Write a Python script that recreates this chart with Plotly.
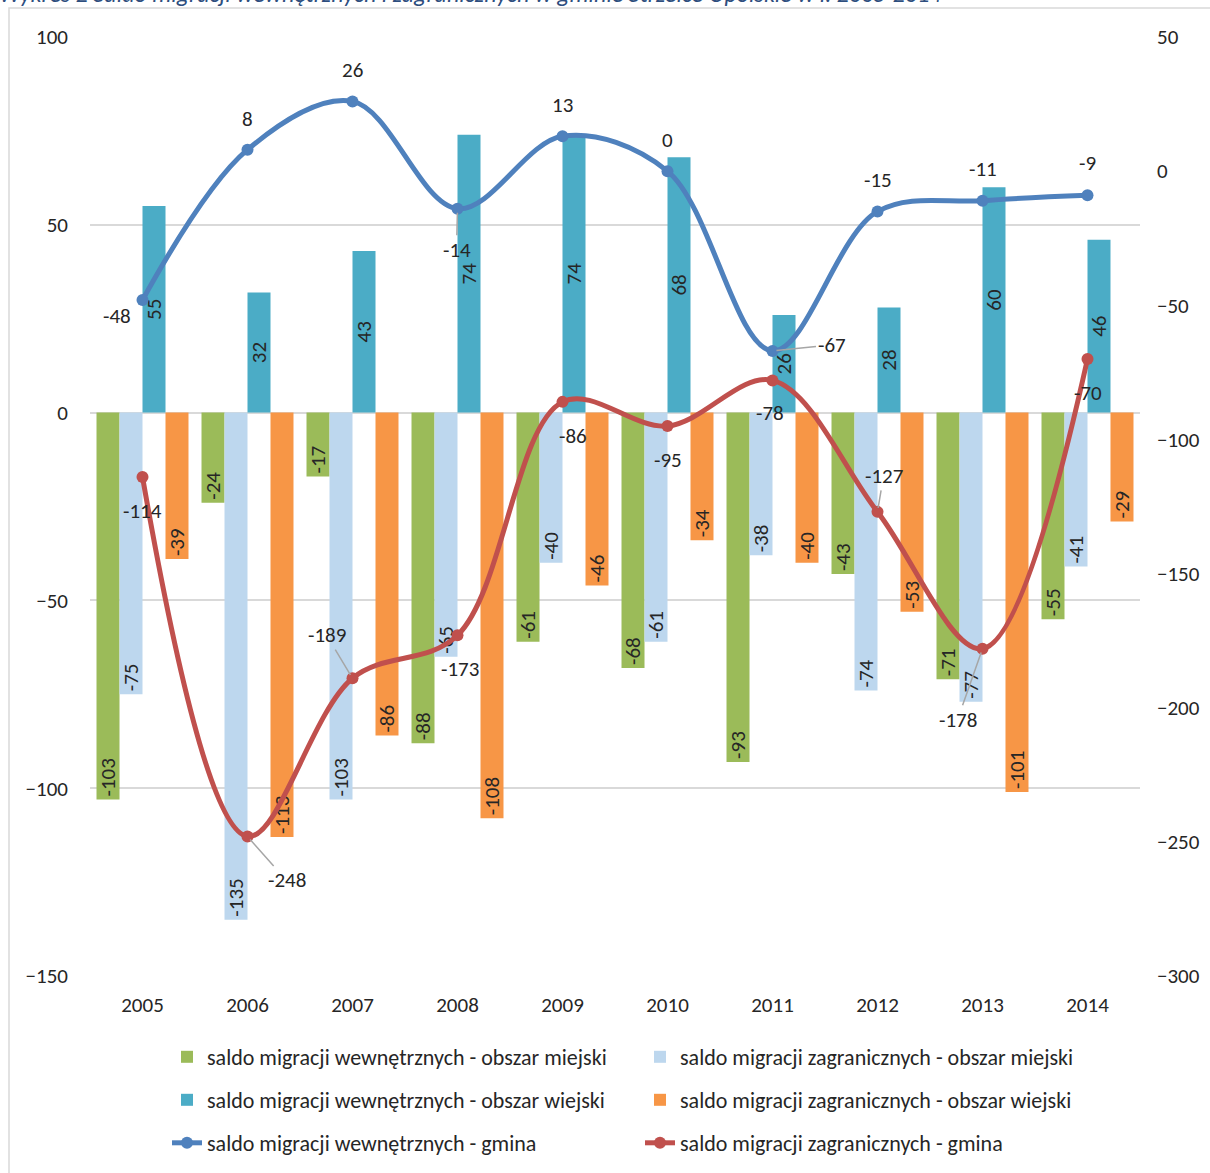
import plotly.graph_objects as go

years = ["2005", "2006", "2007", "2008", "2009", "2010", "2011", "2012", "2013", "2014"]
wewn_miejski = [-103, -24, -17, -88, -61, -68, -93, -43, -71, -55]
zagr_miejski = [-75, -135, -103, -65, -40, -61, -38, -74, -77, -41]
wewn_wiejski = [55, 32, 43, 74, 74, 68, 26, 28, 60, 46]
zagr_wiejski = [-39, -113, -86, -108, -46, -34, -40, -53, -101, -29]
wewn_gmina = [-48, 8, 26, -14, 13, 0, -67, -15, -11, -9]
zagr_gmina = [-114, -248, -189, -173, -86, -95, -78, -127, -178, -70]

names = [
    "saldo migracji wewnętrznych - obszar miejski",
    "saldo migracji zagranicznych - obszar miejski",
    "saldo migracji wewnętrznych - obszar wiejski",
    "saldo migracji zagranicznych - obszar wiejski",
    "saldo migracji wewnętrznych - gmina",
    "saldo migracji zagranicznych - gmina",
]
title_text = "Wykres 2 Saldo migracji wewnętrznych i zagranicznych w gminie Strzelce Opolskie w l. 2005-2014"

FONT = "Carlito, Lato, sans-serif"
TXT = "#262626"
FS = 21
W, H = 1210, 1173
ML, MR, MT, MB = 90, 70, 37, 197
PW, PH = W - ML - MR, H - MT - MB

fig = go.Figure()

bar_specs = [
    (wewn_miejski, "#9BBB59", "end", "legend"),
    (zagr_miejski, "#BDD7EE", "end", "legend"),
    (wewn_wiejski, "#4BACC6", "middle", "legend2"),
    (zagr_wiejski, "#F79646", "end", "legend2"),
]
for i, (vals, col, anchor, lg) in enumerate(bar_specs):
    fig.add_trace(go.Bar(
        x=years, y=vals, name=names[i], marker=dict(color=col, line=dict(width=0)),
        text=[str(v) for v in vals], textposition="inside", insidetextanchor=anchor,
        textangle=-90, constraintext="none", cliponaxis=False,
        textfont=dict(family=FONT, size=FS, color=TXT),
        legend=lg, hoverinfo="skip",
    ))

fig.add_trace(go.Scatter(
    x=years, y=wewn_gmina, name=names[4], yaxis="y2", mode="lines+markers",
    line=dict(color="#4F81BD", width=5, shape="spline", smoothing=1),
    marker=dict(size=12, color="#4F81BD"), legend="legend3", hoverinfo="skip",
))
fig.add_trace(go.Scatter(
    x=years, y=zagr_gmina, name=names[5], yaxis="y2", mode="lines+markers",
    line=dict(color="#C0504D", width=5, shape="spline", smoothing=1),
    marker=dict(size=12, color="#C0504D"), legend="legend3", hoverinfo="skip",
))

# label offsets (pixels): (dx, dy) of label centre from the point, leader flag
blue_off = [(-26, 16, False), (0, -31, False), (0, -31, False), (-1, 41, True), (0, -31, False),
            (0, -31, False), (59, -6, True), (0, -31, False), (0, -32, False), (0, -32, False)]
red_off = [(0, 34, False), (39, 44, True), (-26, -43, True), (2, 34, False), (10, 34, False),
           (0, 34, False), (-3, 33, False), (6, -36, True), (-25, 71, True), (0, 34, False)]

annotations = []
for vals, offs in ((wewn_gmina, blue_off), (zagr_gmina, red_off)):
    for idx, (v, (dx, dy, lead)) in enumerate(zip(vals, offs)):
        common = dict(x=idx, y=v, xref="x", yref="y2", text=str(v),
                      font=dict(family=FONT, size=FS, color=TXT))
        if lead:
            annotations.append(dict(**common, showarrow=True, ax=dx, ay=dy, axref="pixel",
                                    ayref="pixel", arrowhead=0, arrowwidth=1.5,
                                    arrowcolor="#A6A6A6", standoff=4))
        else:
            annotations.append(dict(**common, showarrow=False, xshift=dx, yshift=-dy))

annotations.append(dict(
    text=title_text, xref="paper", yref="paper", x=(-3 - ML) / PW, y=1 + (MT - 10) / PH,
    xanchor="left", yanchor="bottom", showarrow=False,
    font=dict(family=FONT, size=24, color="#2E4E7E", style="italic"),
))

shapes = [dict(type="rect", xref="paper", yref="paper",
               x0=(9 - ML) / PW, x1=(1215 - ML) / PW,
               y0=-(H + 20 - MT - PH) / PH, y1=1 + (MT - 8) / PH,
               line=dict(color="#D9D9D9", width=1.5), fillcolor="rgba(0,0,0,0)", layer="below")]

leg_common = dict(orientation="h", font=dict(family=FONT, size=22, color=TXT),
                  x=(167 - ML) / PW, xanchor="left", yanchor="middle", yref="container",
                  entrywidth=428, bgcolor="rgba(0,0,0,0)", itemclick=False)

fig.update_layout(
    width=W, height=H, margin=dict(l=ML, r=MR, t=MT, b=MB, autoexpand=False),
    paper_bgcolor="white", plot_bgcolor="white",
    barmode="group", bargap=0.124, bargroupgap=0,
    font=dict(family=FONT, size=FS, color=TXT),
    xaxis=dict(type="category", range=[-0.5, 9.5], showgrid=False, showline=False, ticks="",
               tickfont=dict(family=FONT, size=FS, color=TXT), ticklabelstandoff=14),
    yaxis=dict(range=[-150, 100], dtick=50, showgrid=True, gridcolor="#D9D9D9", gridwidth=1.5,
               zeroline=True, zerolinecolor="#D9D9D9", zerolinewidth=1.5, showline=False,
               ticks="", tickfont=dict(family=FONT, size=FS, color=TXT), ticklabelstandoff=21),
    yaxis2=dict(range=[-300, 50], dtick=50, overlaying="y", side="right", showgrid=False,
                zeroline=False, showline=False, ticks="",
                tickfont=dict(family=FONT, size=FS, color=TXT), ticklabelstandoff=16),
    legend=dict(**leg_common, y=1 - 1057 / H),
    legend2=dict(**leg_common, y=1 - 1100 / H),
    legend3=dict(**leg_common, y=1 - 1143 / H),
    annotations=annotations, shapes=shapes, showlegend=True,
)

fig.write_html("out.html", config={"displayModeBar": False},
               post_script="document.body.style.margin='0';")
